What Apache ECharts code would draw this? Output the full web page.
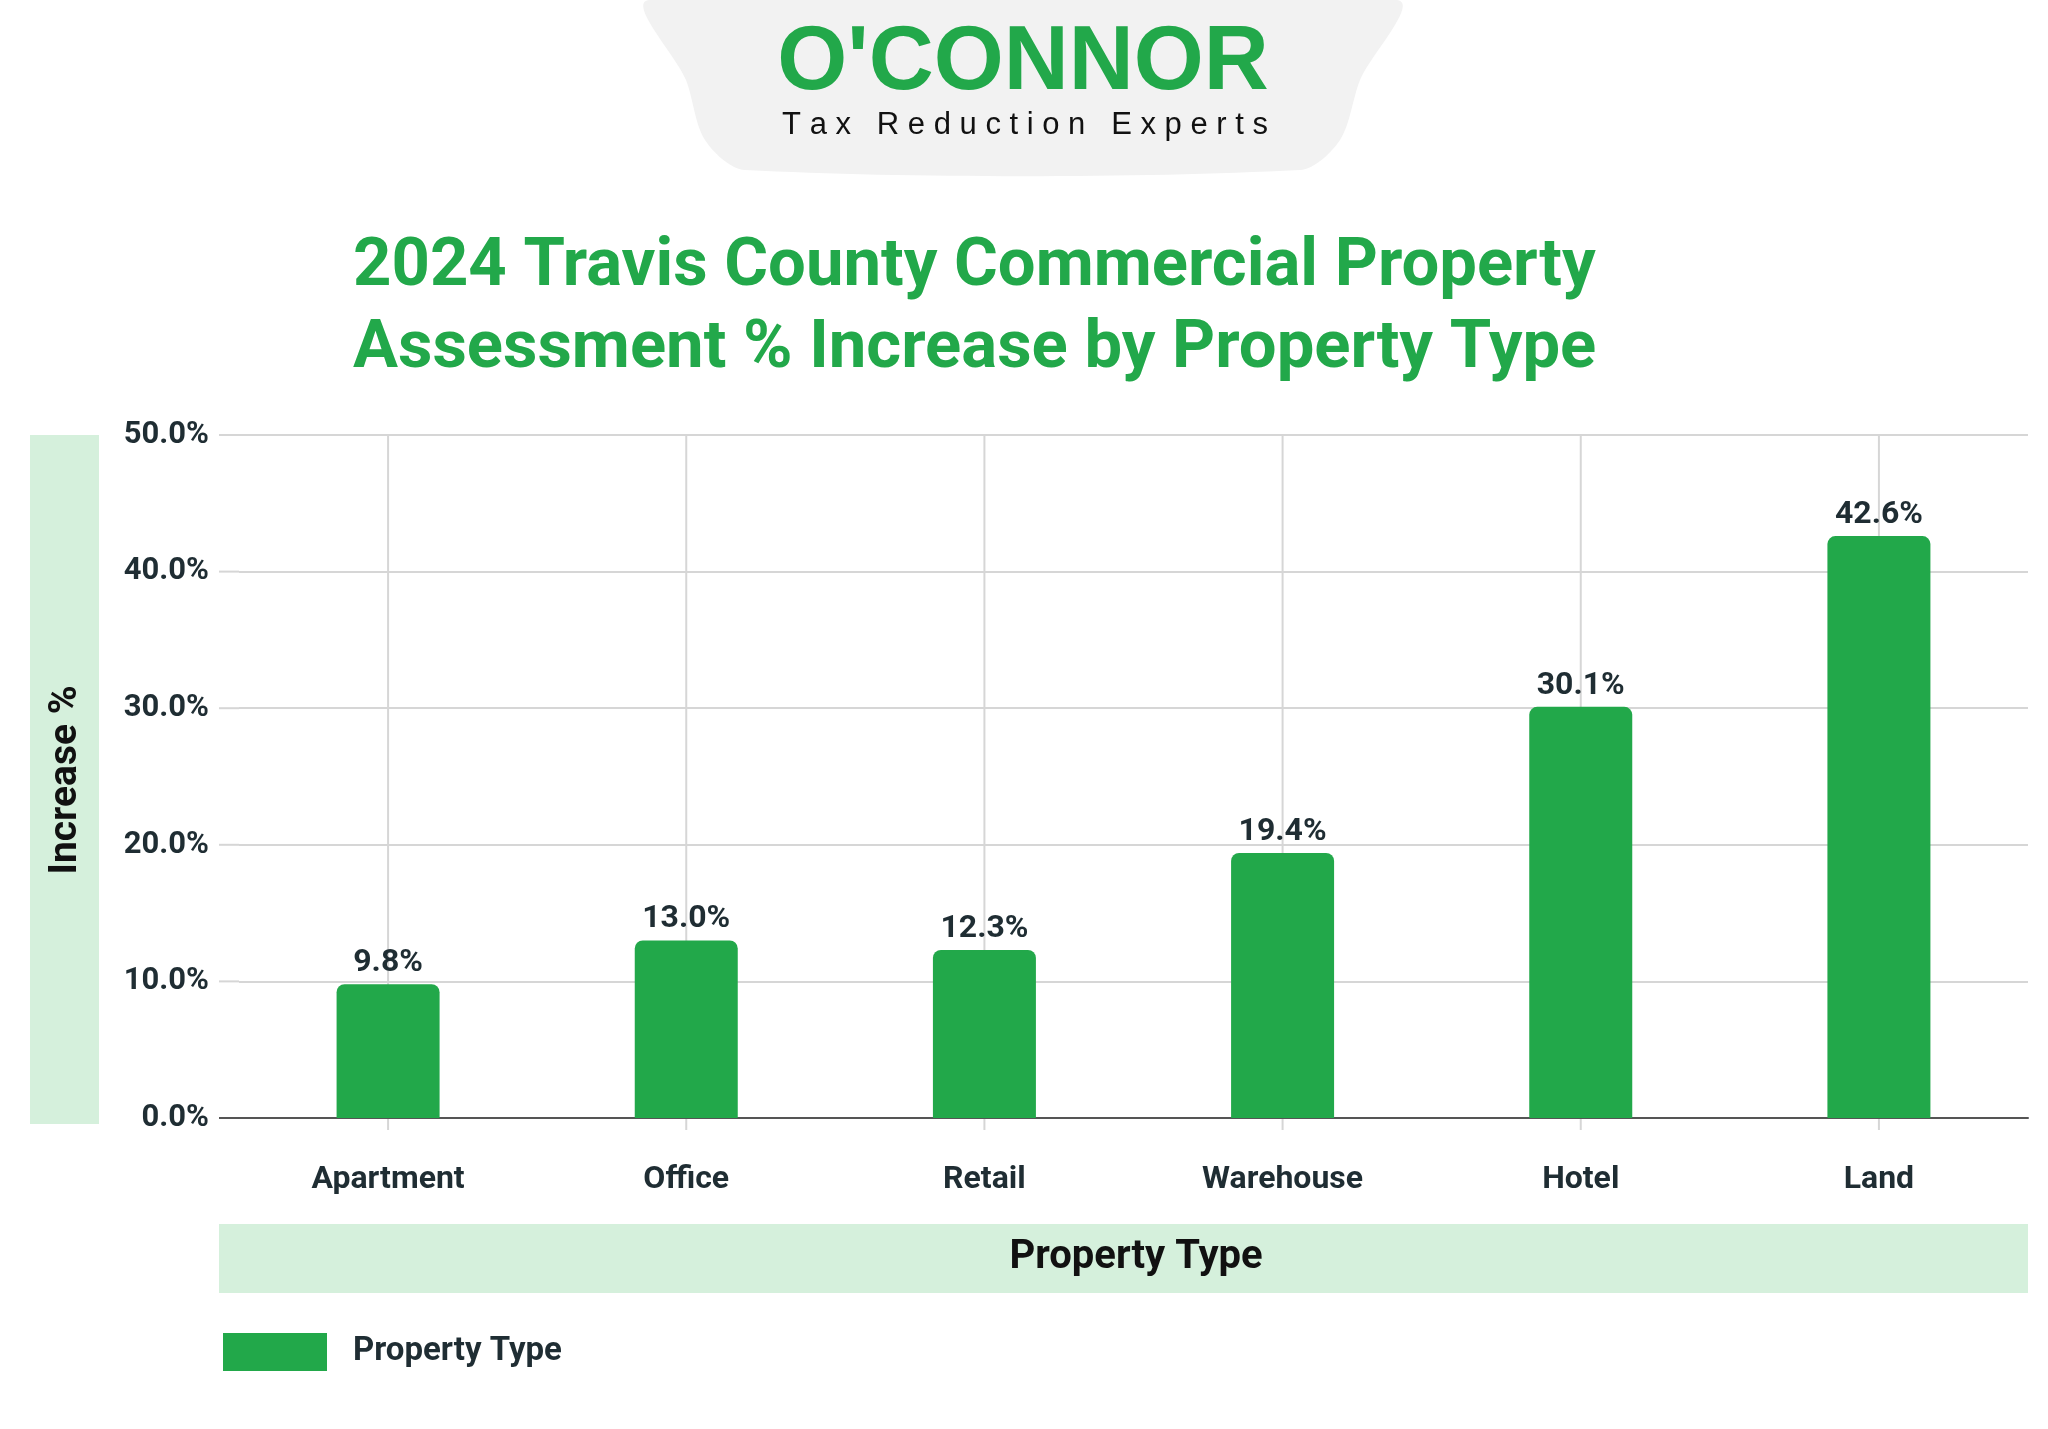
<!DOCTYPE html>
<html><head><meta charset="utf-8">
<script src="https://cdn.jsdelivr.net/npm/echarts@6/dist/echarts.min.js"></script>
<style>html,body{margin:0;padding:0;background:#fff}#main{width:2048px;height:1429px}</style>
</head><body><div id="main"></div>
<script>
// data
var categories = ['Apartment', 'Office', 'Retail', 'Warehouse', 'Hotel', 'Land'];
var increases = [9.8, 13.0, 12.3, 19.4, 30.1, 42.6];
var yTicks = [0, 10, 20, 30, 40, 50];

var green = '#22a84a';
var dark = '#1f2d33';
var font = 'Roboto';
var gridLeft = 239, axisStart = 219;

var myChart = echarts.init(document.getElementById('main'));

var option = {
    backgroundColor: '#fff',
    textStyle: {fontFamily: font},
    grid: {left: gridLeft, right: 20, top: 435, bottom: 311},
    xAxis: {
        type: 'category',
        data: categories,
        axisTick: {show: false},
        axisLine: {lineStyle: {color: '#555', width: 2}},
        axisLabel: {color: dark, fontSize: 32, fontWeight: 'bold', margin: 46},
        splitLine: {show: false},
        boundaryGap: true
    },
    yAxis: {
        type: 'value',
        min: yTicks[0], max: yTicks[yTicks.length - 1], interval: 10,
        axisLabel: {color: dark, fontSize: 31, fontWeight: 'bold', margin: 30,
            formatter: function (v) { return v.toFixed(1) + '%'; }},
        splitLine: {lineStyle: {color: '#d6d6d6', width: 2}}
    },
    series: [{
        name: 'Property Type',
        type: 'bar',
        data: increases,
        barWidth: 103,
        itemStyle: {color: green, borderRadius: [8, 8, 0, 0]},
        label: {show: true, position: 'top', color: dark, fontSize: 32, fontWeight: 'bold',
            formatter: function (p) { return p.value.toFixed(1) + '%'; }}
    }],
    graphic: [
        // logo background
        {type: 'polygon', shape: {points: [[649, 0], [1397, 0], [1360, 80], [1340, 140], [1300, 170], [745, 170], [705, 140], [686, 80]], smooth: 0.3},
         style: {fill: '#f2f2f2'}},
        {type: 'text', x: 1023, y: 64, style: {text: "O'CONNOR", fill: green, font: 'bold 90px "Liberation Sans", Arial', align: 'center', verticalAlign: 'middle'}},
        {type: 'text', x: 1025, y: 125, style: {text: 'T a x   R e d u c t i o n   E x p e r t s', fill: '#111', font: '31px "Liberation Sans"', align: 'center', verticalAlign: 'middle'}},
        // title
        {type: 'text', x: 353, y: 227, style: {text: '2024 Travis County Commercial Property\nAssessment % Increase by Property Type', fill: green, font: 'bold 67px Roboto', lineHeight: 82}},
        // y axis name band
        {type: 'rect', shape: {x: 30, y: 435, width: 69, height: 689}, style: {fill: '#d5f0dc'}},
        {type: 'text', x: 66, y: 780, rotation: Math.PI / 2, style: {text: 'Increase %', fill: '#111', font: 'bold 39px Roboto', align: 'center', verticalAlign: 'middle'}},
        // x axis name band
        {type: 'rect', shape: {x: 219, y: 1224, width: 1809, height: 69}, style: {fill: '#d5f0dc'}},
        {type: 'text', x: 1136, y: 1258, style: {text: 'Property Type', fill: '#111', font: 'bold 40px Roboto', align: 'center', verticalAlign: 'middle'}},
        // legend
        {type: 'rect', shape: {x: 223, y: 1333, width: 104, height: 38}, style: {fill: green}},
        {type: 'text', x: 353, y: 1352, style: {text: 'Property Type', fill: dark, font: 'bold 33px Roboto', verticalAlign: 'middle'}}
    ]
};
myChart.setOption(option);

// vertical grid lines through category centres, and stubs extending the horizontal lines left
var extra = categories.map(function (c) {
    var x = myChart.convertToPixel({xAxisIndex: 0}, c);
    return {type: 'line', z: -1, shape: {x1: x, y1: 435, x2: x, y2: 1130}, style: {stroke: '#d6d6d6', lineWidth: 2}};
});
yTicks.forEach(function (t) {
    var y = myChart.convertToPixel({yAxisIndex: 0}, t);
    extra.push({type: 'line', shape: {x1: axisStart, y1: y, x2: gridLeft, y2: y},
        style: {stroke: t === 0 ? '#555' : '#d6d6d6', lineWidth: 2}});
});
myChart.setOption({graphic: option.graphic.concat(extra)});
</script></body></html>
